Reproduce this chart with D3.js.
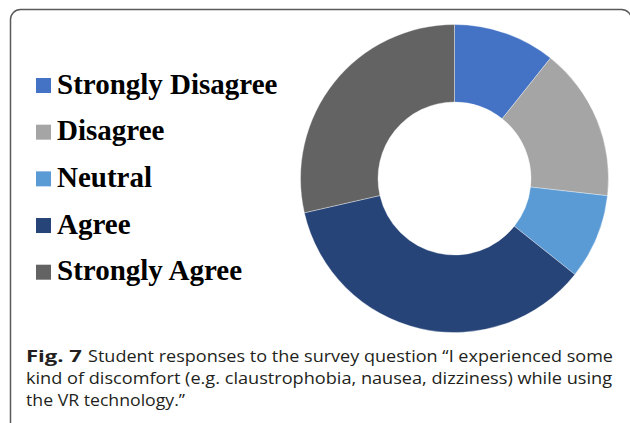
<!DOCTYPE html>
<html>
<head>
<meta charset="utf-8">
<script src="https://cdn.jsdelivr.net/npm/d3@7"></script>
<style>
  html, body { margin: 0; padding: 0; background: #fff; }
  svg { display: block; }
</style>
</head>
<body>
<svg id="chart" width="630" height="423"></svg>
<script>
// Data (counts of student responses)
const categories = ["Strongly Disagree", "Disagree", "Neutral", "Agree", "Strongly Agree"];
const values = [6, 9, 5, 20, 16];
const colors = ["#4472C4", "#A5A5A5", "#5B9BD5", "#264478", "#636363"];
const captionBold = "Fig. 7";
const captionLines = [
  "Student responses to the survey question \u201cI experienced some",
  "kind of discomfort (e.g. claustrophobia, nausea, dizziness) while using",
  "the VR technology.\u201d"
];

const svg = d3.select("#chart");

// Frame (rounded box, open off the bottom/right)
svg.append("rect")
  .attr("x", 10.5).attr("y", 9.5)
  .attr("width", 621).attr("height", 440)
  .attr("rx", 10).attr("ry", 10)
  .attr("fill", "none")
  .attr("stroke", "#5a5a5a")
  .attr("stroke-width", 1.5);

// Donut
const cx = 454.5, cy = 178.5, rOuter = 154, rInner = 76.5;
const color = d3.scaleOrdinal().domain(categories).range(colors);
const pie = d3.pie().sort(null).value(d => d.value);
const arc = d3.arc().innerRadius(rInner).outerRadius(rOuter);
const data = categories.map((c, i) => ({ cat: c, value: values[i] }));

svg.append("g")
  .attr("transform", `translate(${cx},${cy})`)
  .selectAll("path")
  .data(pie(data))
  .join("path")
  .attr("d", arc)
  .attr("fill", d => color(d.data.cat))
  .attr("stroke", "#ffffff")
  .attr("stroke-opacity", 0.6)
  .attr("stroke-width", 0.6);

// Legend
const legendY = d3.scalePoint().domain(categories).range([78, 264.7]);
const legend = svg.append("g");
const items = legend.selectAll("g").data(categories).join("g")
  .attr("transform", d => `translate(0,${legendY(d)})`);
items.append("rect")
  .attr("x", 36).attr("y", 0)
  .attr("width", 15).attr("height", 15)
  .attr("fill", d => color(d));
items.append("text")
  .attr("x", 57).attr("y", 15.5)
  .attr("font-family", "'Liberation Serif', 'Times New Roman', serif")
  .attr("font-weight", "bold")
  .attr("font-size", 29)
  .attr("fill", "#000")
  .text(d => d);

// Caption
const capFont = "'Open Sans', 'Noto Sans', sans-serif";
const cap = svg.append("g").attr("fill", "#231f20");
cap.append("text")
  .attr("x", 26).attr("y", 361.5)
  .attr("font-family", capFont).attr("font-weight", "bold")
  .attr("font-size", 16.5)
  .attr("textLength", 56).attr("lengthAdjust", "spacingAndGlyphs")
  .text(captionBold);
const lineX = [88, 26, 26];
const lineY = [361.5, 384, 406];
const lineEnd = [613, 612, 185];
captionLines.forEach((t, i) => {
  cap.append("text")
    .attr("x", lineX[i]).attr("y", lineY[i])
    .attr("font-family", capFont)
    .attr("font-size", 16.5)
    .attr("textLength", lineEnd[i] - lineX[i])
    .attr("lengthAdjust", "spacingAndGlyphs")
    .text(t);
});
</script>
</body>
</html>
